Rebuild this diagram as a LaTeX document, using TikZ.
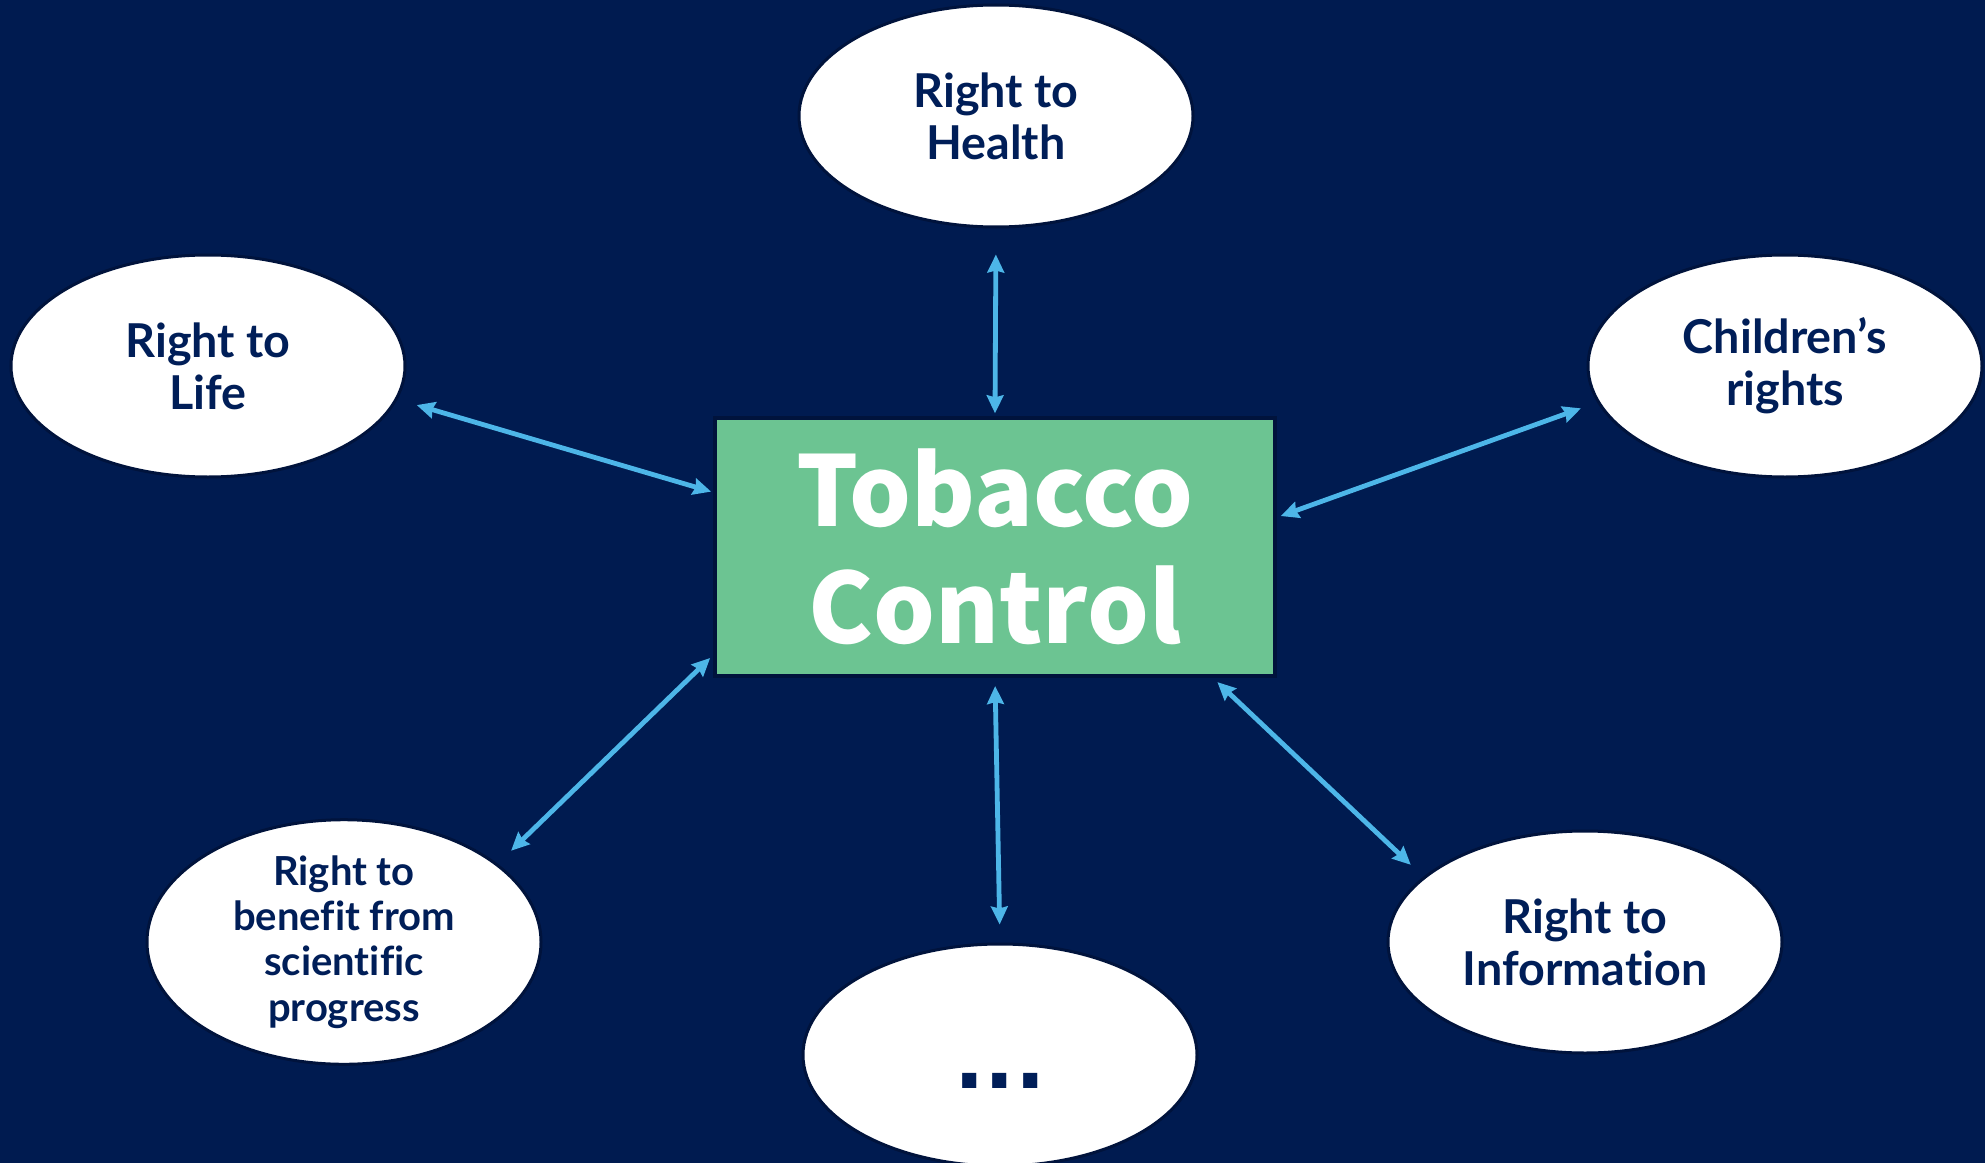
\documentclass[tikz,border=0pt]{standalone}
\usepackage{fontspec}
\usetikzlibrary{shapes.geometric,arrows.meta}

\IfFontExistsTF{Lato Black}
  {\newfontfamily\latofont{Lato Black}[Ligatures = NoCommon]}
  {\newfontfamily\latofont{Lato}[Ligatures = NoCommon, BoldFeatures = {FakeBold = 1.2}]}
\newfontfamily\hubfont{Noto Sans CJK JP}
\newfontfamily\dotsfont{DejaVu Sans}

\definecolor{navybg}{RGB}{0,27,80}
\definecolor{navyedge}{RGB}{0,19,60}
\definecolor{navytext}{RGB}{0,30,88}
\definecolor{hubgreen}{RGB}{108,196,146}
\definecolor{linkblue}{RGB}{77,182,232}

\begin{document}
\begin{tikzpicture}[
    x = 0.75pt, y = -0.75pt,
    %scale = 1,
    rightnode/.style = {ellipse, draw = navyedge, line width = 2.25pt,
                        fill = white, text = navytext, align = center,
                        minimum width = 295.5pt, minimum height = 166.5pt,
                        inner sep = 0pt,
                        font = \latofont\bfseries\fontsize{35}{39}\selectfont},
    smallright/.style = {rightnode,
                         font = \latofont\bfseries\fontsize{30}{34}\selectfont},
    hub/.style = {rectangle, draw = navyedge, line width = 3pt,
                  fill = hubgreen, text = white, align = center,
                  minimum width = 420pt, minimum height = 193.5pt,
                  font = \hubfont\bfseries\fontsize{73}{88}\selectfont},
    link/.style = {draw = linkblue, line width = 3.6pt, {Stealth[length = 13.5pt, width = 12.5pt, inset = 1.5pt]}-{Stealth[length = 13.5pt, width = 12.5pt, inset = 1.5pt]}}
  ]
  \useasboundingbox (0,0) rectangle (1985,1163);
  \fill[navybg] (0,0) rectangle (1985,1163);

  % centre box
  \node[hub] (tc) at (995,547) {Tobacco\\Control};

  % rights around it
  \node[rightnode] (health)   at (996,116)  {Right to\\Health};
  \node[rightnode] (life)     at (208,366)  {Right to\\Life};
  \node[rightnode] (children) at (1785,366) {Children’s\\rights};
  \node[smallright] (science) at (344,942)  {Right to\\benefit from\\scientific\\progress};
  \node[rightnode] (info)     at (1585,942) {Right to\\Information};
  \node[rightnode, font = \dotsfont\bfseries\fontsize{60}{60}\selectfont,
        text height = 49.5pt, text depth = 0pt] (more) at (1000,1055) {...};

  % Links
  \draw[link, shorten < = 19.5pt, shorten > = 2pt]   (health.south)  -- (tc.north);
  \draw[link, shorten < = 15pt,   shorten > = 1.5pt] (life.-10.7)    -- (tc.169);
  \draw[link, shorten < = 13pt,   shorten > = 3pt]   (children.191)  -- (tc.6.7);
  \draw[link, shorten < = 14pt,   shorten > = 3pt]   (science.27.4)  -- (tc.201.6);
  \draw[link, shorten < = 13.5pt, shorten > = 6pt]   (more.north)    -- (tc.south);
  \draw[link, shorten < = 13pt,   shorten > = 4.5pt] (info.158)      -- (tc.-31.8);
\end{tikzpicture}
\end{document}
